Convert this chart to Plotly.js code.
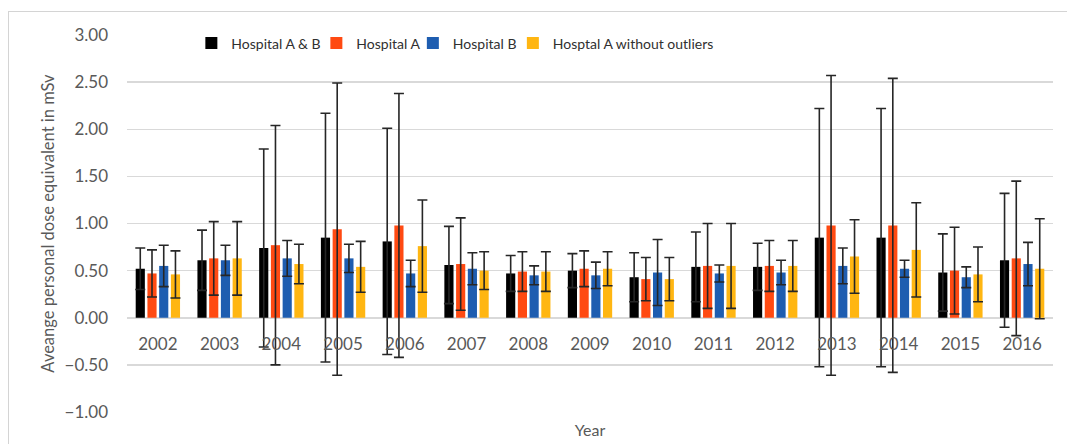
<!DOCTYPE html>
<html>
<head>
<meta charset="utf-8">
<script src="https://cdn.plot.ly/plotly-3.0.1.min.js"></script>
<style>
  html, body { margin: 0; padding: 0; background: #fff; }
  #wrap { position: relative; width: 1067px; height: 444px; overflow: hidden; }
  #chart { width: 1067px; height: 444px; }
  #frame { position: absolute; left: 8px; top: 11px; width: 1100px; height: 500px;
           border-left: 1px solid #d4d4d4; border-top: 1px solid #d4d4d4; pointer-events: none; }
</style>
</head>
<body>
<div id="wrap"><div id="chart"></div><div id="frame"></div></div>
<script>
const years = ["2002","2003","2004","2005","2006","2007","2008","2009","2010","2011","2012","2013","2014","2015","2016"];
const seriesNames = ["Hospital A & B", "Hospital A", "Hospital B", "Hosptal A without outliers"];

const hospitalAB    = [0.52,0.61,0.74,0.85,0.81,0.56,0.47,0.50,0.43,0.54,0.54,0.85,0.85,0.48,0.61];
const hospitalABErr = [0.22,0.32,1.05,1.32,1.20,0.41,0.19,0.18,0.26,0.37,0.25,1.37,1.37,0.41,0.71];
const hospitalA     = [0.47,0.63,0.77,0.94,0.98,0.57,0.49,0.52,0.41,0.55,0.55,0.98,0.98,0.50,0.63];
const hospitalAErr  = [0.25,0.39,1.27,1.55,1.40,0.49,0.21,0.19,0.23,0.45,0.27,1.59,1.56,0.46,0.82];
const hospitalB     = [0.55,0.61,0.63,0.63,0.47,0.52,0.45,0.45,0.48,0.47,0.48,0.55,0.52,0.43,0.57];
const hospitalBErr  = [0.22,0.16,0.19,0.15,0.14,0.17,0.10,0.14,0.35,0.09,0.13,0.19,0.09,0.11,0.23];
const hospitalANoOut    = [0.46,0.63,0.57,0.54,0.76,0.50,0.49,0.52,0.41,0.55,0.55,0.65,0.72,0.46,0.52];
const hospitalANoOutErr = [0.25,0.39,0.21,0.27,0.49,0.20,0.21,0.18,0.23,0.45,0.27,0.39,0.50,0.29,0.53];

const colors = ["#000000", "#FF4A12", "#1E5DB0", "#FFB612"];
const values = [hospitalAB, hospitalA, hospitalB, hospitalANoOut];
const errors = [hospitalABErr, hospitalAErr, hospitalBErr, hospitalANoOutErr];
const legendIds = ["legend", "legend2", "legend3", "legend4"];
const legendX = [0.0695, 0.2045, 0.3087, 0.4167];

const FONT = "Lato, 'Open Sans', sans-serif";

const traces = seriesNames.map((name, i) => ({
  type: "bar",
  name: name,
  x: years,
  y: values[i],
  legend: legendIds[i],
  marker: { color: colors[i] },
  error_y: { type: "data", array: errors[i], visible: true, color: "#262626", thickness: 1.6, width: 5 }
}));

const layout = {
  width: 1067, height: 444,
  margin: { l: 127, r: 14, t: 35, b: 32 },
  paper_bgcolor: "#ffffff",
  plot_bgcolor: "#ffffff",
  barmode: "group",
  bargap: 0.24,
  bargroupgap: 0.22,
  font: { family: FONT, color: "#595959" },
  showlegend: true,
  xaxis: {
    type: "category",
    anchor: "free",
    position: 0.25,
    showgrid: false,
    showline: false,
    zeroline: false,
    ticks: "",
    ticklabelstandoff: 14,
    tickfont: { family: FONT, size: 17, color: "#595959" },
    title: { text: "Year", font: { family: FONT, size: 16, color: "#595959" }, standoff: 72 }
  },
  yaxis: {
    range: [-1, 3],
    dtick: 0.5,
    tickformat: ".2f",
    showgrid: true,
    gridcolor: "#d9d9d9",
    gridwidth: 1.5,
    zeroline: true,
    zerolinecolor: "#d9d9d9",
    zerolinewidth: 1.5,
    showline: false,
    ticks: "",
    ticklabelstandoff: 18,
    tickfont: { family: FONT, size: 17, color: "#595959" },
    title: { text: "Aveange personal dose equivalent in mSv", font: { family: FONT, size: 16.5, color: "#595959" }, standoff: 5 }
  }
};

legendIds.forEach((id, i) => {
  layout[id] = {
    orientation: "h",
    x: legendX[i], xanchor: "left",
    y: 1.02, yanchor: "top",
    bgcolor: "rgba(255,255,255,0)",
    font: { family: FONT, size: 14, color: "#303030" },
    itemwidth: 30
  };
});

Plotly.newPlot("chart", traces, layout, { displayModeBar: false, staticPlot: true });
</script>
</body>
</html>
